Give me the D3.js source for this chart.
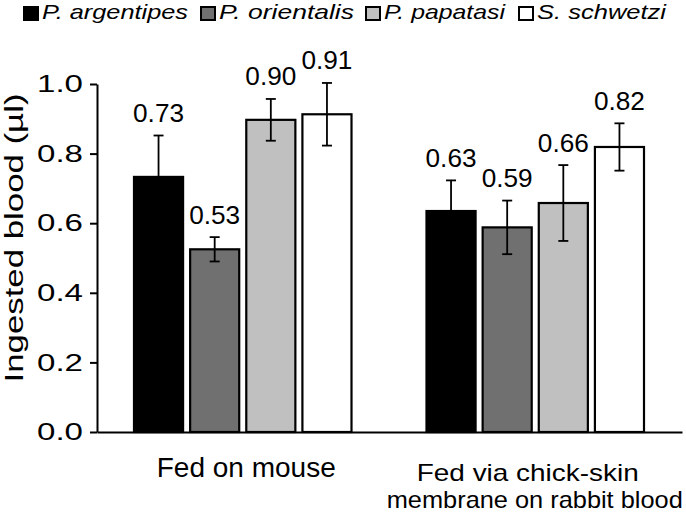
<!DOCTYPE html>
<html>
<head>
<meta charset="utf-8">
<script src="https://cdn.jsdelivr.net/npm/d3@7"></script>
<style>
  html, body { margin: 0; padding: 0; background: #fff; }
  svg { display: block; }
  text { font-family: "Liberation Sans", Arial, sans-serif; fill: #000; }
</style>
</head>
<body>
<svg id="chart" width="686" height="513"></svg>
<script>
// ---------- data ----------
const categories = ["Fed on mouse", "Fed via chick-skin membrane on rabbit blood"];
const categoryLines = [["Fed on mouse"], ["Fed via chick-skin", "membrane on rabbit blood"]];
const series = ["P. argentipes", "P. orientalis", "P. papatasi", "S. schwetzi"];
const valuesMouse = [0.733, 0.525, 0.897, 0.913];
const valuesChick = [0.635, 0.588, 0.658, 0.819];
const errMouse = [0.119, 0.035, 0.060, 0.090];
const errChick = [0.088, 0.077, 0.109, 0.068];
const labelsMouse = ["0.73", "0.53", "0.90", "0.91"];
const labelsChick = ["0.63", "0.59", "0.66", "0.82"];
const yTicks = [0.0, 0.2, 0.4, 0.6, 0.8, 1.0];
const yTitle = "Ingested blood (\u00b5l)";

// ---------- styles ----------
const fills = ["#000000", "#707070", "#c0c0c0", "#ffffff"];
const legendX = [23, 200, 365, 518];
const legendTextLen = [146, 135, 121, 129];
const catLineDx = [[3], [-8, -1]];
const catLineLen = [[179], [222, 296]];

const rows = [
  { cat: categories[0], values: valuesMouse, errs: errMouse, labels: labelsMouse },
  { cat: categories[1], values: valuesChick, errs: errChick, labels: labelsChick }
];

const svg = d3.select("#chart");
const y = d3.scaleLinear().domain([0, 1.0]).range([432, 84]);
const x0 = d3.scaleBand().domain(categories).range([97, 682]).padding(0);
const x1 = d3.scaleBand().domain(series)
  .range([36, x0.bandwidth() - 37]).paddingInner(0.09).paddingOuter(0);

// bars
const groups = svg.append("g").selectAll("g.grp").data(rows).join("g")
  .attr("class", "grp")
  .attr("transform", d => `translate(${x0(d.cat)},0)`);

const items = groups.selectAll("g.item")
  .data(d => series.map((s, i) => ({ s, i, v: d.values[i], e: d.errs[i], lab: d.labels[i] })))
  .join("g").attr("class", "item");

items.append("rect")
  .attr("x", d => x1(d.s) + 1)
  .attr("y", d => y(d.v))
  .attr("width", x1.bandwidth() - 2)
  .attr("height", d => y(0) - y(d.v))
  .attr("fill", d => fills[d.i])
  .attr("stroke", "#000")
  .attr("stroke-width", 2.2);

// error bars
const cx = d => x1(d.s) + x1.bandwidth() / 2;
items.append("line")
  .attr("x1", cx).attr("x2", cx)
  .attr("y1", d => y(d.v + d.e)).attr("y2", d => y(d.v - d.e))
  .attr("stroke", "#000").attr("stroke-width", 1.8);
items.append("line")
  .attr("x1", d => cx(d) - 5).attr("x2", d => cx(d) + 5)
  .attr("y1", d => y(d.v + d.e)).attr("y2", d => y(d.v + d.e))
  .attr("stroke", "#000").attr("stroke-width", 1.8);
items.append("line")
  .attr("x1", d => cx(d) - 5).attr("x2", d => cx(d) + 5)
  .attr("y1", d => y(d.v - d.e)).attr("y2", d => y(d.v - d.e))
  .attr("stroke", "#000").attr("stroke-width", 1.8);

// value labels
items.append("text")
  .attr("x", cx)
  .attr("y", d => y(d.v + d.e) - 13.5)
  .attr("text-anchor", "middle")
  .attr("font-size", 25)
  .attr("textLength", 51)
  .attr("lengthAdjust", "spacingAndGlyphs")
  .text(d => d.lab);

// y axis
const yAxis = svg.append("g")
  .attr("transform", "translate(97,0)")
  .call(d3.axisLeft(y).tickValues(yTicks).tickFormat(d3.format(".1f"))
    .tickSize(7).tickSizeOuter(0).tickPadding(7));
yAxis.select(".domain").attr("stroke", "#000").attr("stroke-width", 2);
yAxis.selectAll(".tick line").attr("stroke", "#000").attr("stroke-width", 2);
yAxis.selectAll(".tick text")
  .attr("font-size", 24)
  .attr("font-family", "Liberation Sans, Arial, sans-serif")
  .attr("fill", "#000")
  .attr("textLength", 46)
  .attr("lengthAdjust", "spacingAndGlyphs");

// x axis (baseline only)
const xAxis = svg.append("g")
  .attr("transform", `translate(0,${y(0)})`)
  .call(d3.axisBottom(x0).tickSize(0).tickSizeOuter(0).tickFormat(""));
xAxis.select(".domain").attr("stroke", "#000").attr("stroke-width", 2);

// category labels
categoryLines.forEach((lines, ci) => {
  const cxCat = x0(categories[ci]) + x0.bandwidth() / 2;
  const baselines = lines.length === 1 ? [477] : [481, 507.5];
  const fs = lines.length === 1 ? 27 : 24;
  lines.forEach((ln, li) => {
    svg.append("text")
      .attr("x", cxCat + catLineDx[ci][li])
      .attr("y", baselines[li])
      .attr("text-anchor", "middle")
      .attr("font-size", fs)
      .attr("textLength", catLineLen[ci][li])
      .attr("lengthAdjust", "spacingAndGlyphs")
      .text(ln);
  });
});

// y title
svg.append("text")
  .attr("transform", `translate(23,238) rotate(-90)`)
  .attr("text-anchor", "middle")
  .attr("font-size", 25)
  .attr("textLength", 289)
  .attr("lengthAdjust", "spacingAndGlyphs")
  .text(yTitle);

// legend
const leg = svg.append("g").selectAll("g").data(series).join("g")
  .attr("transform", (d, i) => `translate(${legendX[i]},0)`);
leg.append("rect")
  .attr("x", 1).attr("y", 7).attr("width", 14).attr("height", 13)
  .attr("fill", (d, i) => fills[i])
  .attr("stroke", "#000").attr("stroke-width", 2);
leg.append("text")
  .attr("x", 19).attr("y", 18.5)
  .attr("font-size", 21)
  .attr("font-style", "italic")
  .attr("textLength", (d, i) => legendTextLen[i])
  .attr("lengthAdjust", "spacingAndGlyphs")
  .text(d => d);
</script>
</body>
</html>
